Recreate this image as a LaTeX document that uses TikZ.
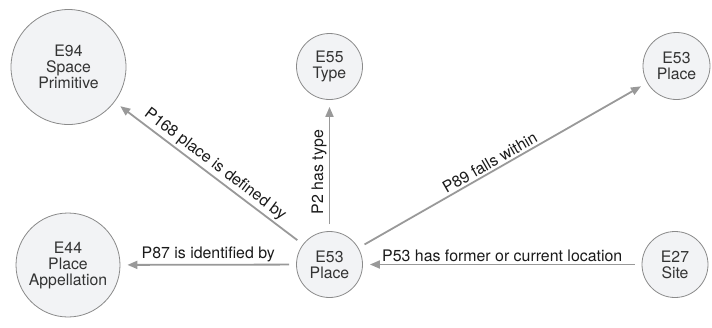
\documentclass[tikz,border=0pt]{standalone}
\usepackage{fontspec}
\setmainfont{TeX Gyre Heros}
\usetikzlibrary{arrows.meta}
\definecolor{nodefill}{HTML}{F2F3F5}
\definecolor{nodeedge}{HTML}{8A8A8A}
\definecolor{edgecol}{HTML}{999999}
\definecolor{nodetext}{HTML}{333333}
\definecolor{labeltext}{HTML}{1A1A1A}
\begin{document}
\begin{tikzpicture}[x=1pt,y=-1pt,
  cls/.style={circle,draw=nodeedge,line width=0.8pt,fill=nodefill,inner sep=0pt,
    align=center,text=nodetext,font=\fontsize{15.8}{16}\selectfont},
  rel/.style={draw=edgecol,line width=1.8pt,
    -{Triangle[length=10pt,width=8pt]},shorten <=7pt,shorten >=7pt},
  lbl/.style={text=labeltext,font=\fontsize{15.9}{16}\selectfont,inner sep=2pt}]
\path[use as bounding box] (0,0) rectangle (712,327);
\node[cls,minimum size=115pt] (e94) at (68.5,67) {E94\\Space\\Primitive};
\node[cls,minimum size=66pt] (e55) at (329.5,66.5) {E55\\Type};
\node[cls,minimum size=67pt] (e53b) at (676.5,66) {E53\\Place};
\node[cls,minimum size=104pt] (e44) at (68,265) {E44\\Place\\Appellation};
\node[cls,minimum size=66pt] (e53) at (329.5,264.5) {E53\\Place};
\node[cls,minimum size=66pt] (e27) at (675,264.5) {E27\\Site};
\draw[rel] (e53) -- node[lbl,above] {P87 is identified by} (e44);
\draw[rel] (e27) -- node[lbl,above] {P53 has former or current location} (e53);
\draw[rel] (e53) -- node[lbl,above,sloped,pos=0.45] {P2 has type} (e55);
\draw[rel] (e53) -- node[lbl,above,sloped] {P168 place is defined by} (e94);
\draw[rel] (e53) -- node[lbl,above,sloped,pos=0.47] {P89 falls within} (e53b);
\end{tikzpicture}
\end{document}
